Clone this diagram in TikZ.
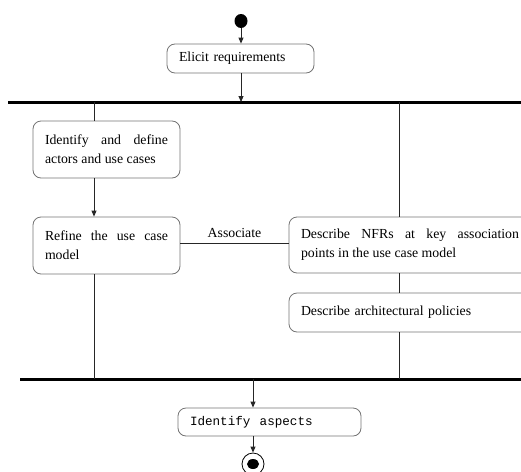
\documentclass[tikz,border=0pt]{standalone}
\usepackage{fontspec}
\setmainfont{Liberation Serif}
\setmonofont{Liberation Mono}
\usetikzlibrary{arrows.meta,shapes.geometric}
\begin{document}
\begin{tikzpicture}[x=1pt,y=-1pt,
  act/.style={draw=black!55, line width=0.8pt, rounded corners=8pt,
    inner xsep=12pt, inner ysep=0pt, align=justify,
    font=\fontsize{13.8}{19}\selectfont},
  flow/.style={draw=black!85, line width=0.9pt},
  arr/.style={flow, -{Triangle[length=6pt,width=5pt]}},
  bar/.style={draw=black, line width=3pt}]
\useasboundingbox (0,0) rectangle (521,471);
\clip (0,0) rectangle (521,471);

% column positions of the flows
\coordinate (colL) at (94,0);
\coordinate (colR) at (399,0);
\coordinate (colM) at (253,0);

% fork and join bars
\coordinate (forkL) at (8,102);
\coordinate (forkR) at (540,102);
\coordinate (joinL) at (20,379);
\coordinate (joinR) at (540,379);
\draw[bar] (forkL) -- (forkR);
\draw[bar] (joinL) -- (joinR);

% initial and final states
\node (start) [fill=black, shape=ellipse, minimum width=13pt, minimum height=14pt,
  inner sep=0pt] at (241,21) {};
\node (stopout) [draw=black, line width=0.8pt, shape=ellipse, minimum width=22pt,
  minimum height=22pt, inner sep=0pt] at (253,464) {};
\node (stopin) [fill=black, shape=ellipse, minimum width=12pt, minimum height=10pt,
  inner sep=0pt] at (253,464) {};

% activities
\node (elicit) [act, align=left, text width=123pt, minimum height=29pt] at (240.5,58.5)
  {Elicit requirements};
\node (ident) [act, text width=123pt, minimum height=57pt] at (106.5,149.5)
  {Identify and define\linebreak actors and use cases};
\node (refine) [act, text width=123pt, minimum height=57pt] at (106.5,245.5)
  {Refine the use case\linebreak model};
\node (nfr) [act, text width=218pt, minimum height=56pt] at (410,245)
  {Describe NFRs at key association\linebreak points in the use case model};
\node (arch) [act, align=left, text width=218pt, minimum height=39pt] at (410,312.5)
  {Describe architectural policies};
\node (aspects) [act, align=left, text width=159pt, minimum height=28pt,
  font=\fontsize{12.6}{16}\ttfamily] at (269.5,422)
  {Identify \hspace{0.4em}aspects};

% control flow
\draw[arr] (start) -- (elicit.north -| start);
\draw[arr] (elicit.south -| start) -- (forkL -| start);
\draw[flow] (forkL -| colL) -- (ident.north -| colL);
\draw[arr] (ident.south -| colL) -- (refine.north -| colL);
\draw[flow] (refine.south -| colL) -- (joinL -| colL);
\draw[flow] (forkL -| colR) -- (nfr.north -| colR);
\draw[flow] (nfr.south -| colR) -- (arch.north -| colR);
\draw[flow] (arch.south -| colR) -- (joinL -| colR);
\draw[arr] (joinL -| colM) -- (aspects.north -| colM);
\draw[arr] (aspects.south -| colM) -- (stopout.north);

% association between the two flows
\draw[flow] (refine.east |- 0,243) -- node[above=2pt, font=\fontsize{13.8}{16}\selectfont] (assoc) {Associate} (nfr.west |- 0,243);
\end{tikzpicture}
\end{document}
